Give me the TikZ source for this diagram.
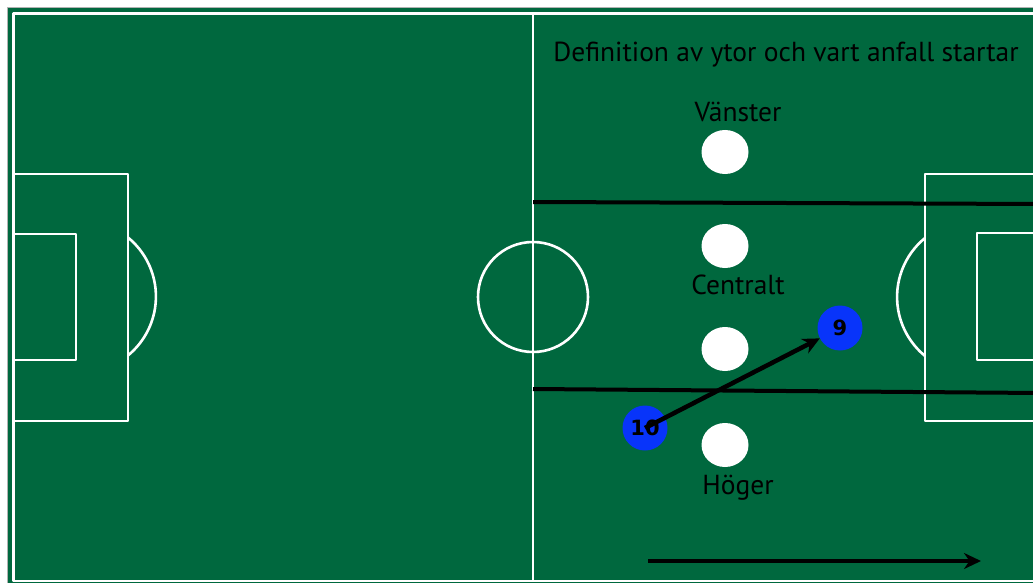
\documentclass[tikz,border=0pt]{standalone}
\usepackage{fontspec}
\setmainfont{PT Sans}
\newfontfamily\numberfont{DejaVu Sans}
\usetikzlibrary{arrows.meta,shapes.geometric}
\definecolor{pitch}{RGB}{0,104,62}
\definecolor{playerblue}{RGB}{8,52,250}
\begin{document}
\begin{tikzpicture}[x=1pt, y=-1pt, line join=round, >={Stealth[length=17pt,width=16pt]},
	pitchline/.style={white, line width=2.6pt},
	zoneline/.style={black, line width=4pt},
	spot/.style={ellipse, fill=white, minimum width=47pt, minimum height=44pt, inner sep=0pt},
	player/.style={circle, fill=playerblue, minimum size=45pt, inner sep=0pt, font=\numberfont\bfseries\fontsize{21}{21}\selectfont},
	zonelabel/.style={font=\fontsize{27.5}{27.5}\selectfont}]
	\useasboundingbox (0,0) rectangle (1033,583);
	\clip (0,0) rectangle (1033,583);
	\fill[white] (0,0) rectangle (1033,583);
	\filldraw[fill=pitch, draw=gray!60] (7,7) rectangle (1050,600);
	% pitch markings
	\draw[pitchline] (13.5,13.5) rectangle (1060,581);
	\draw[pitchline] (533,13.5) -- (533,581);
	\draw[pitchline] (533,297) circle (55);
	\draw[pitchline] (13.5,174) rectangle (128,421) (13.5,234) rectangle (76,360);
	\draw[pitchline] (128,237.5) arc[start angle=50.7, end angle=-50.7, radius=76.2pt];
	\draw[pitchline] (925,238) arc[start angle=129.3, end angle=230.7, radius=76.2pt];
	\draw[pitchline] (925,174) rectangle (1060,421) (977,233) rectangle (1060,360);
	% zones
	\draw[zoneline] (533,202) -- (1040,204) (533,389) -- (1040,393);
	\node[zonelabel] (title) at (786,55) {Definition av ytor och vart anfall startar};
	\node[zonelabel] (vanster) at (738,112) {Vänster};
	\node[zonelabel] (centralt) at (738,285) {Centralt};
	\node[zonelabel] (hoger) at (738,488) {Höger};
	\node[spot] (s1) at (725,152) {};
	\node[spot] (s2) at (725,246) {};
	\node[spot] (s3) at (725,349) {};
	\node[spot] (s4) at (725,445) {};
	% players
	\node[player] (p10) at (645,428) {10};
	\node[player] (p9) at (840,328) {9};
	\draw[->, line width=4.5pt] (p10.center) -- (p9);
	% direction of play
	\coordinate (playstart) at (648,561);
	\coordinate (playend) at (981,561);
	\draw[->, line width=4.5pt] (playstart) -- (playend);
\end{tikzpicture}
\end{document}
